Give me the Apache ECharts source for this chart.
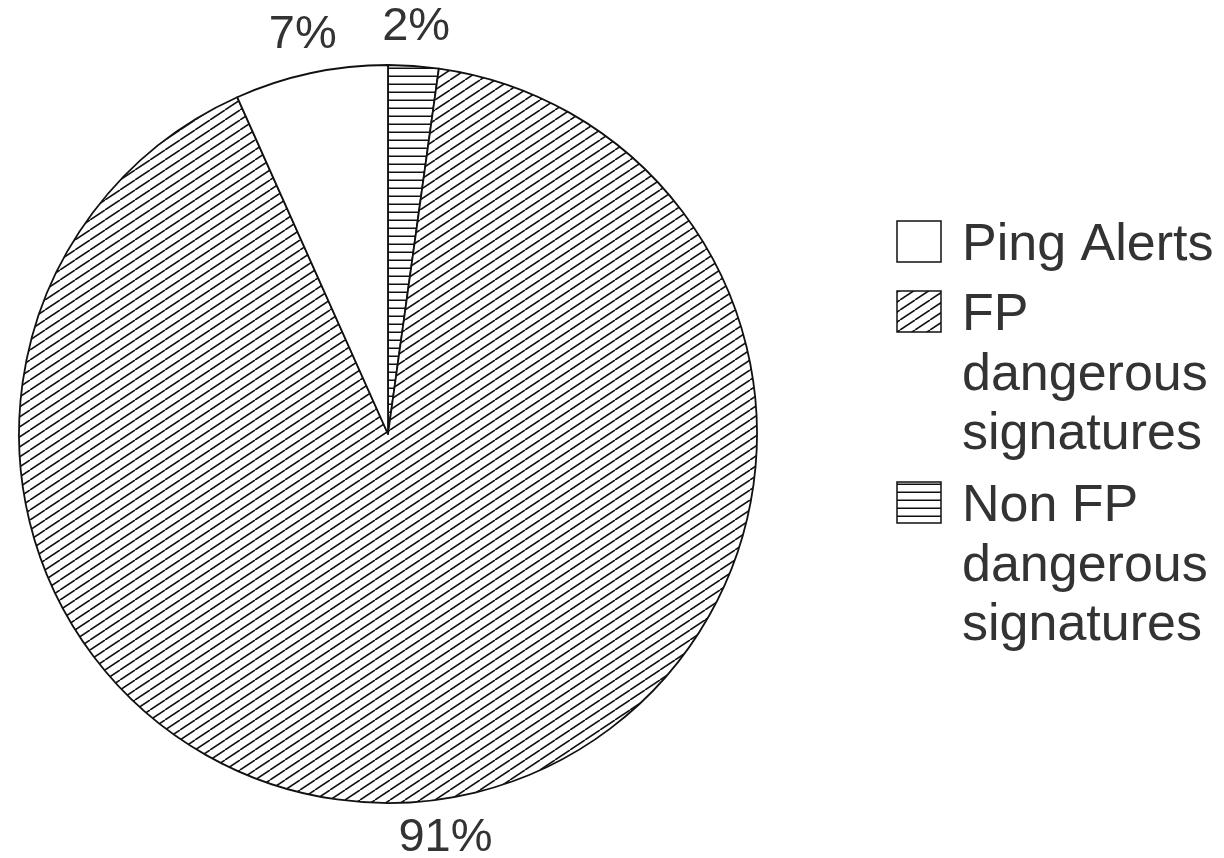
<!DOCTYPE html>
<html>
<head>
<meta charset="utf-8">
<script src="https://cdn.jsdelivr.net/npm/echarts@6/dist/echarts.min.js"></script>
<style>
html,body{margin:0;padding:0;background:#fff;}
#chart{width:1224px;height:858px;}
</style>
</head>
<body>
<div id="chart"></div>
<script>
// Data (clockwise from 12 o'clock), slice sizes
const categories = ['Non FP dangerous signatures', 'FP dangerous signatures', 'Ping Alerts'];
const values = [2.2, 91.1, 6.7];
const valueLabels = ['2%', '91%', '7%'];
// legend order and text
const legendOrder = ['Ping Alerts', 'FP dangerous signatures', 'Non FP dangerous signatures'];
const legendLines = [['Ping Alerts'], ['FP', 'dangerous', 'signatures'], ['Non FP', 'dangerous', 'signatures']];

function diagPattern() {
  const c = document.createElement('canvas');
  c.width = 15; c.height = 10;
  const g = c.getContext('2d');
  g.fillStyle = '#fff'; g.fillRect(0, 0, 15, 10);
  g.strokeStyle = '#111'; g.lineWidth = 1.6;
  for (let k = -1; k <= 1; k++) {
    g.beginPath();
    g.moveTo(k * 15, 10); g.lineTo(k * 15 + 15, 0);
    g.stroke();
  }
  return c;
}
function horizPattern() {
  const c = document.createElement('canvas');
  c.width = 8; c.height = 8;
  const g = c.getContext('2d');
  g.fillStyle = '#fff'; g.fillRect(0, 0, 8, 8);
  g.fillStyle = '#111'; g.fillRect(0, 3.5, 8, 1.5);
  return c;
}
const fills = {
  'Ping Alerts': '#ffffff',
  'FP dangerous signatures': { image: diagPattern(), repeat: 'repeat' },
  'Non FP dangerous signatures': { image: horizPattern(), repeat: 'repeat' }
};

const chart = echarts.init(document.getElementById('chart'), null, { renderer: 'canvas' });

const pieData = categories.map((c, i) => ({
  name: c, value: values[i],
  itemStyle: { color: fills[c] }
}));
const labelData = categories.map((c, i) => ({
  name: c, value: values[i],
  label: { formatter: valueLabels[i] }
}));

// Legend built as graphics
const legendGraphics = [];
const iconX = 897, iconW = 44, iconH = 41;
const textX = 962;
const firstLineY = [246, 316, 507];
const lineGap = 59.5;
legendOrder.forEach((name, i) => {
  const y0 = firstLineY[i];
  legendGraphics.push({
    type: 'rect',
    shape: { x: iconX, y: y0 - 25, width: iconW, height: iconH },
    style: { fill: fills[name], stroke: '#111', lineWidth: 1.5 }
  });
  legendLines[i].forEach((ln, j) => {
    legendGraphics.push({
      type: 'text',
      style: {
        x: textX, y: y0 + j * lineGap,
        text: ln,
        font: '52px "Liberation Sans", Arial, sans-serif',
        fill: '#333',
        textAlign: 'left', textVerticalAlign: 'middle'
      }
    });
  });
});

chart.setOption({
  animation: false,
  backgroundColor: '#fff',
  series: [
    {
      type: 'pie',
      center: [388, 434],
      radius: [0, 369],
      startAngle: 90,
      clockwise: true,
      silent: true,
      label: { show: false },
      labelLine: { show: false },
      itemStyle: { borderColor: '#111', borderWidth: 1.8 },
      data: pieData
    },
    {
      type: 'pie',
      center: [388, 434],
      radius: [370, 440],
      startAngle: 90,
      clockwise: true,
      silent: true,
      itemStyle: { color: 'rgba(0,0,0,0)', borderWidth: 0 },
      label: {
        show: true,
        position: 'inside',
        fontFamily: '"Liberation Sans", Arial, sans-serif',
        fontSize: 47,
        color: '#333'
      },
      labelLine: { show: false },
      data: labelData
    }
  ],
  graphic: legendGraphics
});
</script>
</body>
</html>
